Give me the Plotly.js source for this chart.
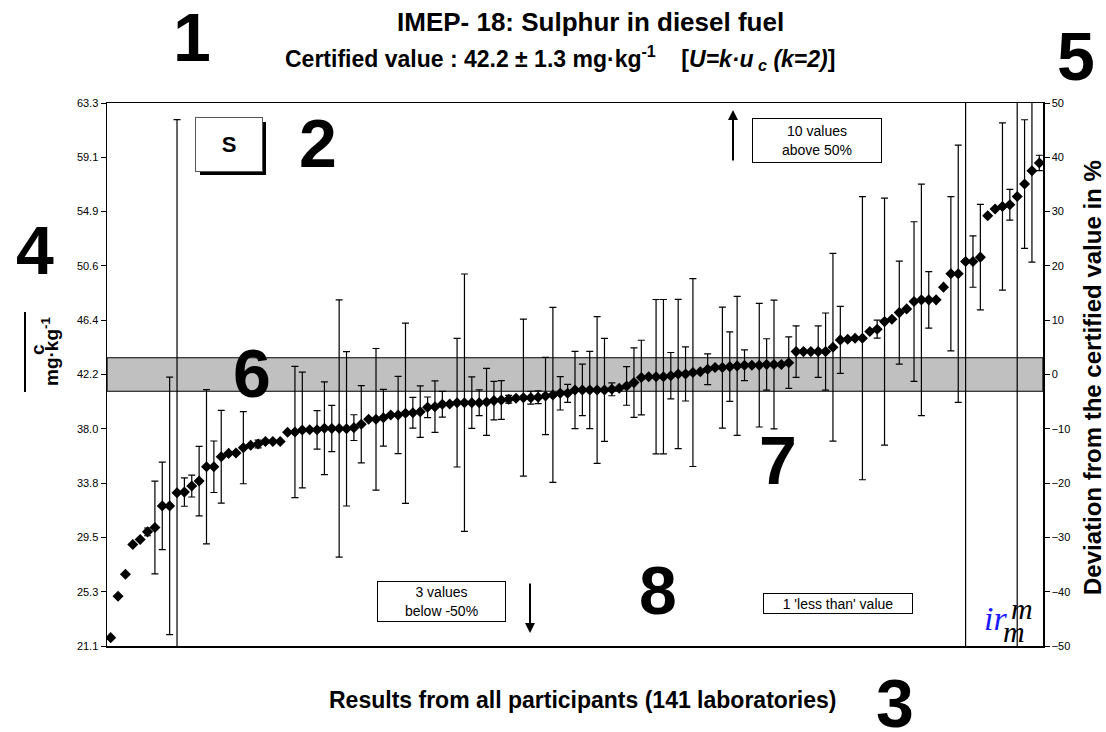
<!DOCTYPE html>
<html>
<head>
<meta charset="utf-8">
<script src="https://cdn.plot.ly/plotly-3.0.1.min.js"></script>
<style>
  html, body { margin: 0; padding: 0; background: #ffffff; }
  #chart { width: 1106px; height: 732px; }
</style>
</head>
<body>
<div id="chart"></div>
<script>
// ---- Data ----
const certifiedValue = 42.2;     // mg/kg
const expandedUnc = 1.3;         // U (k=2)
const percentTicks = [-50, -40, -30, -20, -10, 0, 10, 20, 30, 40, 50];

// Laboratory results sorted ascending (mg/kg)
const labValues = [
  21.75, 24.97, 26.68, 28.99, 29.38, 29.97, 30.31, 31.99, 31.99, 33.01,
  33.06, 33.53, 33.92, 35.03, 35.03, 35.81, 36.07, 36.10, 36.51, 36.70,
  36.80, 37.00, 37.00, 37.00, 37.71, 37.73, 37.89, 37.90, 37.90, 38.02,
  38.00, 38.00, 37.98, 38.07, 38.33, 38.72, 38.72, 38.84, 39.05, 39.05,
  39.19, 39.23, 39.31, 39.65, 39.70, 39.89, 39.91, 40.01, 40.01, 40.01,
  40.01, 40.07, 40.17, 40.22, 40.27, 40.35, 40.40, 40.40, 40.43, 40.53,
  40.61, 40.74, 40.74, 41.00, 41.00, 41.00, 41.00, 41.00, 41.05, 41.13,
  41.31, 41.57, 41.96, 42.03, 42.03, 42.03, 42.11, 42.24, 42.24, 42.35,
  42.42, 42.61, 42.74, 42.74, 42.81, 42.87, 42.92, 42.92, 42.92, 42.98,
  42.98, 42.98, 43.12, 43.98, 43.98, 43.98, 43.98, 43.98, 44.32, 44.89,
  44.94, 45.02, 45.02, 45.54, 45.72, 46.31, 46.50, 47.01, 47.30, 47.87,
  48.00, 48.00, 48.00, 48.99, 50.03, 50.03, 50.98, 50.98, 51.32, 54.54,
  55.06, 55.26, 55.39, 56.04, 57.00, 58.04, 58.64
];

// Reported expanded uncertainties (mg/kg); null = not reported
const labUncertainties = [
  null, null, null, null, null, 0.3, 3.6, 3.4, 10.0, 29.0,
  1.1, 0.85, 2.7, 6.0, 2.0, 3.6, null, null, 2.8, null,
  0.3, null, null, null, null, 5.1, 4.5, null, 1.5, 3.6,
  1.8, 10.0, 6.0, 1.0, 3.0, null, 5.5, 2.2, null, 3.0,
  7.0, 1.2, 2.0, 0.8, 2.0, 1.0, null, 5.0, 10.0, 2.0,
  1.0, 2.6, 1.5, 1.5, 0.3, null, 6.1, 0.5, 0.5, 3.0,
  6.8, 1.3, 0.7, 3.0, 2.0, 3.0, 5.7, 4.0, 0.5, null,
  1.5, 2.7, 2.9, null, 6.0, 6.0, 1.8, 5.8, 2.1, 7.3,
  null, 1.2, null, 4.7, 2.7, 5.4, 1.2, null, 4.8, 2.0,
  5.0, null, 2.0, 2.0, null, null, 2.0, 3.0, 7.3, 2.6,
  null, null, 11.0, null, 0.7, 9.6, null, 4.0, null, 6.2,
  9.0, 2.2, null, null, 6.0, 10.0, 30.0, 2.0, 4.1, null,
  null, 6.5, 1.2, 36.0, 5.0, 7.1, 0.6
];

const labIndex = labValues.map((_, i) => i + 1);

// ---- Derived axis settings ----
const yMin = certifiedValue * 0.5, yMax = certifiedValue * 1.5;
const concTickVals = percentTicks.map(p => certifiedValue * (1 + p / 100));
const concTickText = concTickVals.map(v => v.toFixed(1));

// ---- Layout geometry (pixels) ----
const W = 1106, H = 732;
const M = { l: 107, r: 63, t: 103, b: 86 };
const PW = W - M.l - M.r, PH = H - M.t - M.b;
const PX = x => (x - M.l) / PW;
const PY = y => (H - M.b - y) / PH;

const FONT = 'Liberation Sans, Arial, Helvetica, sans-serif';

const trace = {
  x: labIndex,
  y: labValues,
  type: 'scatter',
  mode: 'markers',
  marker: { symbol: 'diamond', size: 8.5, color: '#000000' },
  error_y: {
    type: 'data',
    array: labUncertainties.map(u => (u === null ? NaN : u)),
    visible: true,
    color: '#000000',
    thickness: 1.2,
    width: 3.5
  },
  cliponaxis: true,
  hoverinfo: 'x+y',
  showlegend: false
};

// dummy trace to activate the right (%) axis
const pctTrace = {
  x: [labIndex[0]], y: [0], yaxis: 'y2', type: 'scatter', mode: 'markers',
  marker: { opacity: 0 }, hoverinfo: 'skip', showlegend: false
};

function txt(t, x, y, size, extra) {
  return Object.assign({ text: t, xref: 'paper', yref: 'paper', x: PX(x), y: PY(y),
    xanchor: 'center', yanchor: 'middle', showarrow: false,
    font: { family: FONT, size: size, color: '#000000' } }, extra || {});
}

function big(t, x, y) { return txt('<b>' + t + '</b>', x, y, 68); }

function box(t, cx, cy, w, h, size) {
  return txt(t, cx, cy, size, { width: w, height: h, borderpad: 0, borderwidth: 1,
    bordercolor: '#000000', bgcolor: '#ffffff', align: 'center', valign: 'middle' });
}

const annotations = [
  // titles
  txt('<b>IMEP- 18: Sulphur in diesel fuel</b>', 590, 22, 26),
  txt('<b>Certified value : ' + certifiedValue.toFixed(1) + ' ± ' + expandedUnc.toFixed(1) +
      ' mg·kg<sup>-1</sup>    [<i>U=k·u</i><sub><i> c</i></sub><i> (k=2)</i>]</b>', 560, 58, 23),
  txt('<b>Results from all participants (141 laboratories)</b>', 0, 700, 23,
      { x: PX(838), xanchor: 'right' }),
  // left axis title (fraction)
  txt('<b>c</b>', 37, 350, 19, { textangle: -90 }),
  txt('<b>mg·kg<sup>-1</sup></b>', 50, 352, 19, { textangle: -90 }),
  // right axis title
  txt('<b>Deviation from the certified value in %</b>', 1093, 378, 24, { textangle: -90 }),
  // big section numbers
  big('1', 192, 37), big('2', 318, 143), big('3', 895, 703), big('4', 35, 250),
  big('5', 1076, 56), big('6', 252, 373), big('7', 778, 460), big('8', 658, 590),
  // "S" box
  Object.assign(box('<b>S</b>', 229, 144.5, 66, 53, 22), { bordercolor: '#555555' }),
  // info boxes
  box('10 values<br>above 50%', 816.5, 140, 128, 43, 14),
  box('3 values<br>below -50%', 441, 601, 127, 39, 14),
  box("1 'less than' value", 837.5, 603, 148, 19, 14),
  // arrows
  { text: '', xref: 'paper', yref: 'paper', x: PX(733), y: PY(110), showarrow: true,
    ax: 0, ay: 52, arrowhead: 2, arrowsize: 1, arrowwidth: 2, arrowcolor: '#000000' },
  { text: '', xref: 'paper', yref: 'paper', x: PX(530), y: PY(633), showarrow: true,
    ax: 0, ay: -51, arrowhead: 2, arrowsize: 1, arrowwidth: 2, arrowcolor: '#000000' },
  // irmm logo (text approximation)
  txt('<i>ir</i>', 995, 618, 34, { font: { family: 'Liberation Serif, serif', size: 34, color: '#1a1aff' } }),
  txt('<i>m</i>', 1022, 608, 30, { font: { family: 'Liberation Serif, serif', size: 30, color: '#000000' } }),
  txt('<i>m</i>', 1014, 631, 30, { font: { family: 'Liberation Serif, serif', size: 30, color: '#000000' } })
];

const shapes = [
  // certified value ± U band
  { type: 'rect', xref: 'paper', yref: 'y', x0: 0, x1: 1,
    y0: certifiedValue - expandedUnc, y1: certifiedValue + expandedUnc,
    fillcolor: '#c0c0c0', line: { color: '#000000', width: 1.2 }, layer: 'below' },
  // shadow of the "S" box
  { type: 'rect', xref: 'paper', yref: 'paper', x0: PX(200), x1: PX(266), y0: PY(175), y1: PY(122),
    fillcolor: '#000000', line: { width: 0 }, layer: 'above' },
  // fraction bar of the left axis title
  { type: 'line', xref: 'paper', yref: 'paper', x0: PX(25), x1: PX(25), y0: PY(312), y1: PY(392),
    line: { color: '#000000', width: 2 } }
];

const layout = {
  width: W, height: H,
  margin: M,
  paper_bgcolor: '#ffffff', plot_bgcolor: '#ffffff',
  font: { family: FONT, size: 11, color: '#000000' },
  showlegend: false,
  xaxis: {
    range: [0.5, labValues.length + 0.5], showticklabels: false, ticks: '',
    showgrid: false, zeroline: false, showline: true, mirror: true,
    linecolor: '#000000', linewidth: 1.5
  },
  yaxis: {
    range: [yMin, yMax], tickvals: concTickVals, ticktext: concTickText,
    ticks: 'outside', ticklen: 5, tickwidth: 1, tickcolor: '#000000',
    showgrid: false, zeroline: false, showline: true, linecolor: '#000000', linewidth: 1.5,
    tickfont: { family: FONT, size: 11, color: '#000000' }
  },
  yaxis2: {
    overlaying: 'y', side: 'right', range: [-50, 50], tickvals: percentTicks,
    ticks: 'outside', ticklen: 5, tickwidth: 1, tickcolor: '#000000',
    showgrid: false, zeroline: false, showline: true, linecolor: '#000000', linewidth: 1.5,
    tickfont: { family: FONT, size: 11, color: '#000000' }
  },
  shapes: shapes,
  annotations: annotations
};

Plotly.newPlot('chart', [trace, pctTrace], layout, { staticPlot: true, displayModeBar: false });
</script>
</body>
</html>
